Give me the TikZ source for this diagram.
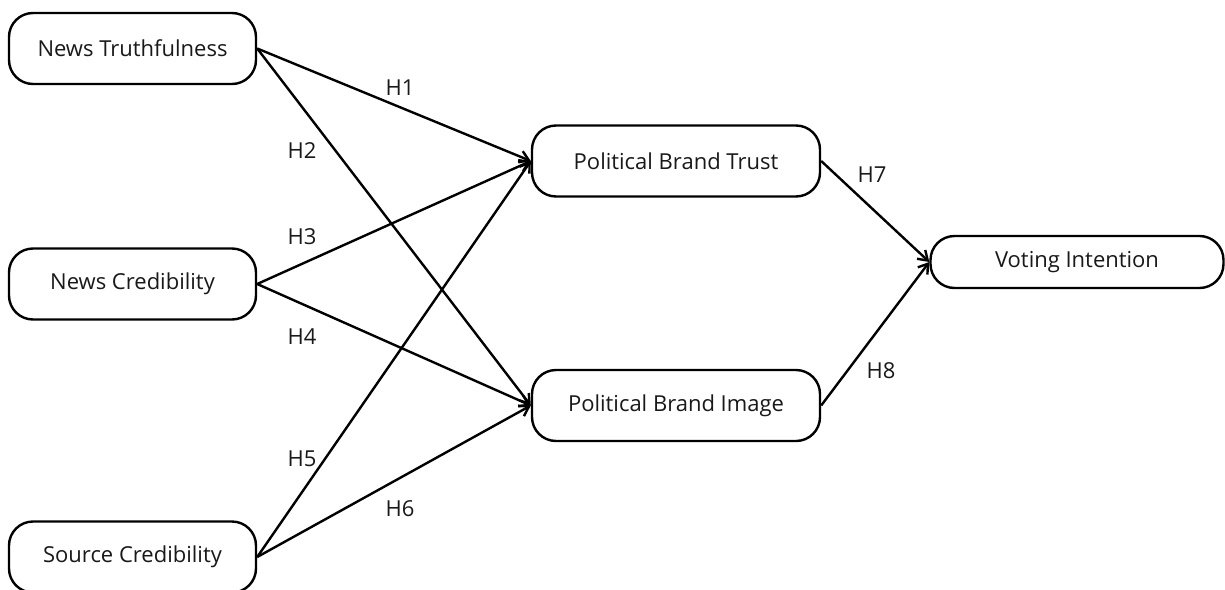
\documentclass[tikz,border=0pt]{standalone}
\usepackage{fontspec}
\setmainfont{Open Sans}
\usetikzlibrary{arrows.meta}
\newcommand{\lowtxt}[1]{\raisebox{-3pt}{#1}}
\begin{document}
\begin{tikzpicture}[x=1pt,y=-1pt,
  box/.style={draw=black,line width=2.4pt,rounded corners=24pt,fill=white,inner sep=0pt,font=\fontsize{22}{26}\selectfont,text=black!90},
  link/.style={line width=2.4pt,-{Straight Barb[length=9pt,width=12pt,line width=2.4pt]}},
  hl/.style={font=\fontsize{22}{26}\selectfont,text=black!90}]
\useasboundingbox (0,0) rectangle (1225,589);
\node[box,minimum width=247pt,minimum height=71pt] (nt) at (132.5,48.5) {\lowtxt{News Truthfulness}};
\node[box,minimum width=247pt,minimum height=71pt] (nc) at (132.5,284) {\lowtxt{News Credibility}};
\node[box,minimum width=247pt,minimum height=71pt] (sc) at (132.5,557) {\lowtxt{Source Credibility}};
\node[box,minimum width=288pt,minimum height=71pt] (pbt) at (676,161) {\lowtxt{Political Brand Trust}};
\node[box,minimum width=288pt,minimum height=71pt] (pbi) at (676,405.5) {\lowtxt{Political Brand Image}};
\node[box,minimum width=293pt,minimum height=52pt] (vi) at (1077,262) {\lowtxt{Voting Intention}};
\draw[link] (nt.east) -- (pbt.west);
\draw[link] (nt.east) -- (pbi.west);
\draw[link] (nc.east) -- (pbt.west);
\draw[link] (nc.east) -- (pbi.west);
\draw[link] (sc.east) -- (pbt.west);
\draw[link] (sc.east) -- (pbi.west);
\draw[link] (pbt.east) -- (vi.west);
\draw[link] (pbi.east) -- (vi.west);
\node[hl] (h1) at (400,88) {H1};
\node[hl] (h2) at (302,151) {H2};
\node[hl] (h3) at (302,237) {H3};
\node[hl] (h4) at (302,337) {H4};
\node[hl] (h5) at (302,459) {H5};
\node[hl] (h6) at (400,509) {H6};
\node[hl] (h7) at (872,175) {H7};
\node[hl] (h8) at (881,371) {H8};
\end{tikzpicture}
\end{document}
